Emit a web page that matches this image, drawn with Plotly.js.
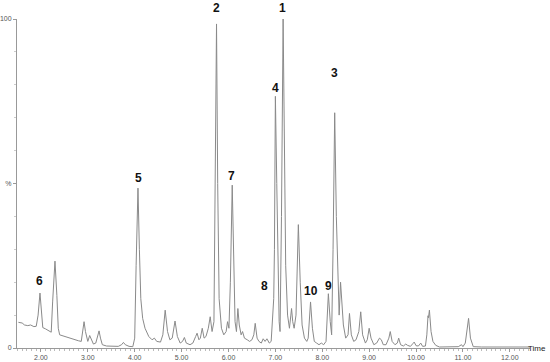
<!DOCTYPE html>
<html>
<head>
<meta charset="utf-8">
<script src="https://cdn.plot.ly/plotly-3.0.1.min.js"></script>
<style>
  html, body { margin: 0; padding: 0; background: #fff; }
  #chart { width: 550px; height: 362px; }
</style>
</head>
<body>
<div id="chart"></div>
<script>
// Retention time (min) and relative intensity (%)
const time = [
  1.52, 1.60, 1.65, 1.72, 1.78, 1.85, 1.90, 1.94, 1.98, 2.02, 2.04, 2.10, 2.18, 2.22, 2.25, 2.30, 2.34, 2.37,
  2.40, 2.50, 2.60, 2.70, 2.80, 2.86, 2.89, 2.92, 2.95, 2.98, 3.00, 3.04, 3.08, 3.12, 3.17, 3.21, 3.24, 3.27,
  3.31, 3.40, 3.55, 3.65, 3.72, 3.76, 3.80, 3.88, 3.96, 4.00, 4.03, 4.07, 4.10, 4.13, 4.17, 4.22, 4.30, 4.37,
  4.42, 4.47, 4.55, 4.60, 4.65, 4.70, 4.75, 4.80, 4.86, 4.91, 4.97, 5.02, 5.06, 5.10, 5.18, 5.24, 5.30, 5.33,
  5.37, 5.40, 5.44, 5.48, 5.52, 5.57, 5.61, 5.65, 5.69, 5.72, 5.745, 5.77, 5.80, 5.85, 5.90, 5.95, 5.98, 6.01,
  6.04, 6.08, 6.11, 6.14, 6.17, 6.20, 6.23, 6.27, 6.30, 6.34, 6.40, 6.45, 6.50, 6.54, 6.57, 6.61, 6.65, 6.70,
  6.74, 6.78, 6.82, 6.87, 6.91, 6.94, 6.965, 6.98, 7.00, 7.03, 7.06, 7.08, 7.10, 7.13, 7.165, 7.19, 7.22, 7.26,
  7.30, 7.33, 7.345, 7.37, 7.40, 7.44, 7.49, 7.53, 7.57, 7.62, 7.67, 7.70, 7.75, 7.79, 7.83, 7.88, 7.93, 7.98,
  8.03, 8.08, 8.13, 8.17, 8.20, 8.23, 8.265, 8.30, 8.34, 8.36, 8.39, 8.42, 8.45, 8.50, 8.55, 8.58, 8.62, 8.67,
  8.72, 8.78, 8.82, 8.86, 8.92, 8.96, 9.00, 9.04, 9.10, 9.16, 9.22, 9.26, 9.30, 9.36, 9.42, 9.45, 9.49, 9.55,
  9.60, 9.63, 9.67, 9.73, 9.78, 9.82, 9.88, 9.93, 9.96, 10.00, 10.05, 10.10, 10.14, 10.20, 10.23, 10.255, 10.265, 10.285,
  10.32, 10.36, 10.42, 10.50, 10.70, 10.90, 10.97, 11.00, 11.05, 11.12, 11.16, 11.22, 11.40, 11.80, 12.20, 12.45
];
const intensity = [
  7.8, 7.6, 7.0, 6.8, 7.0, 6.5, 6.6, 10, 16.7, 10, 6.2, 5.8, 5.0, 4.8, 14, 26.4, 16, 6,
  4.0, 3.5, 3.0, 2.6, 2.2, 2.0, 5, 8.0, 5, 2.5, 2.0, 3.8, 2.2, 1.2, 1.5, 4, 5.2, 3,
  1.0, 0.6, 0.4, 0.5, 1.0, 1.7, 1.0, 0.5, 0.4, 3, 25, 48.6, 30, 15, 9, 6, 3.5, 2.5,
  3.0, 2.0, 1.8, 4, 11.5, 5, 2.5, 3, 8.2, 3.5, 1.5, 2.0, 3.2, 1.5, 1.0, 1.5, 3.5, 4.5,
  2.5, 3, 6.0, 3, 3.5, 6, 9.5, 5, 8, 50, 98.5, 50, 15, 6, 4, 5, 8, 6,
  20, 49.5, 25, 8, 5, 12, 7, 4, 5, 3, 2.5, 2, 2.5, 4, 7.5, 3, 2, 1.5,
  2.8, 2, 2.8, 1.5, 2, 10, 15, 30, 76.5, 50, 20, 8, 5, 40, 100, 60, 25, 10,
  6, 10, 12, 8, 6, 10, 37.5, 20, 7, 3, 2, 3, 14, 6, 2, 1.5, 1.0, 1.5,
  1, 2, 16.5, 8, 4, 30, 71.5, 40, 13, 10, 20, 14, 7, 3, 4, 10.5, 4, 2,
  2.5, 5, 11, 4, 1.5, 2.5, 6, 3, 1, 1.5, 3, 2.5, 1, 1, 3, 5, 2, 1,
  1.5, 3, 1, 0.6, 1.2, 0.8, 0.5, 1.3, 1.8, 0.7, 0.6, 1.5, 0.5, 0.6, 4, 9.8, 9.2, 11.5,
  5, 2, 0.8, 0.3, 0.3, 0.4, 1.0, 0.4, 1.5, 9, 3, 0.4, 0.3, 0.3, 0.3, 0.3
];

// Peak numbering: label, retention time, label centre height (%)
const peakLabels = ['1', '2', '3', '4', '5', '6', '7', '8', '9', '10'];
const peakTimes = [7.15, 5.74, 8.26, 7.00, 4.08, 1.97, 6.07, 6.76, 8.13, 7.77];
const peakLabelY = [103.3, 103.3, 83.6, 79.0, 51.7, 20.4, 52.3, 18.8, 18.8, 17.3];

const trace = {
  x: time,
  y: intensity,
  type: 'scatter',
  mode: 'lines',
  line: { color: '#8a8a8a', width: 1 },
  hoverinfo: 'skip'
};

// y range is 0..100, so a height in % / 100 is the paper position
// (paper refs keep the top labels from being hidden above the range)
const annotations = peakLabels.map((lab, i) => ({
  x: peakTimes[i],
  y: peakLabelY[i] / 100,
  xref: 'x',
  yref: 'paper',
  text: '<b>' + lab + '</b>',
  showarrow: false,
  yanchor: 'middle',
  font: { family: 'Liberation Sans, Arial', size: 12, color: '#111' }
}));

// axis name to the right of the x axis, right-aligned near the page edge
annotations.push({
  x: 1.036, y: 0, xref: 'paper', yref: 'paper',
  text: 'Time', showarrow: false, xanchor: 'right', yanchor: 'middle',
  font: { family: 'Liberation Sans, Arial', size: 8, color: '#222' }
});

const layout = {
  width: 550,
  height: 362,
  margin: { l: 17, r: 20, t: 19, b: 14 },
  paper_bgcolor: '#fff',
  plot_bgcolor: '#fff',
  showlegend: false,
  font: { family: 'Liberation Sans, Arial', size: 7, color: '#555' },
  xaxis: {
    range: [1.49, 12.43],
    showgrid: false,
    zeroline: false,
    showline: true,
    linecolor: '#999',
    linewidth: 1,
    ticks: 'outside',
    ticklen: 3,
    tickcolor: '#999',
    tickvals: [2, 3, 4, 5, 6, 7, 8, 9, 10, 11, 12],
    ticktext: ['2.00', '3.00', '4.00', '5.00', '6.00', '7.00', '8.00', '9.00', '10.00', '11.00', '12.00'],
    minor: { dtick: 0.1, tick0: 0, ticks: 'outside', ticklen: 2, tickcolor: '#bbb' },
    tickfont: { size: 7, color: '#555' }
  },
  yaxis: {
    range: [0, 100],
    showgrid: false,
    zeroline: false,
    showline: true,
    linecolor: '#999',
    linewidth: 1,
    ticks: 'outside',
    ticklen: 3,
    tickcolor: '#999',
    tickvals: [0, 50, 100],
    ticktext: ['0', '%', '100'],
    minor: { dtick: 10, ticks: 'outside', ticklen: 2, tickcolor: '#ccc' },
    tickfont: { size: 7, color: '#555' }
  },
  annotations: annotations
};

Plotly.newPlot('chart', [trace], layout, { displayModeBar: false, staticPlot: true });
</script>
</body>
</html>
